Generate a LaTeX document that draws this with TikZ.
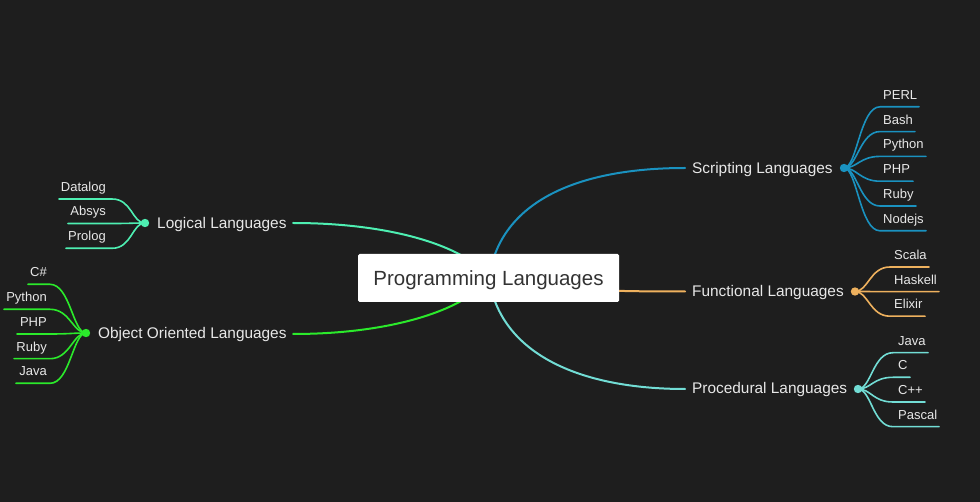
\documentclass[tikz,border=0pt]{standalone}
\usepackage{fontspec}
\setmainfont{Liberation Sans}
\definecolor{bgc}{HTML}{1E1E1E}
\definecolor{txt}{HTML}{E8E8E8}
\definecolor{scol}{HTML}{1A92C0}
\definecolor{fcol}{HTML}{EEB15E}
\definecolor{pcol}{HTML}{72DDD5}
\definecolor{lcol}{HTML}{4EEFB2}
\definecolor{ocol}{HTML}{2BEA2B}
\begin{document}
\begin{tikzpicture}[x=1pt,y=-1pt,line cap=round,
  leaf/.style={text=txt,font=\fontsize{13}{15}\selectfont,inner sep=0pt,anchor=base west},
  leafR/.style={leaf,anchor=base east},
  branch/.style={text=txt,font=\fontsize{15.4}{18}\selectfont,inner sep=0pt,anchor=base west},
  dotn/.style={circle,inner sep=0pt,minimum size=8.4pt,fill=#1},
  mainln/.style={line width=2pt,#1},
  subln/.style={line width=1.6pt,#1},
  rootbox/.style={fill=white,rounded corners=1.5pt,minimum width=261pt,minimum height=48pt,
    text=black!80,font=\fontsize{20.5}{24}\selectfont,text height=16pt,text depth=0pt,inner sep=0pt}]
\useasboundingbox (0,0) rectangle (980,502);
\fill[bgc] (0,0) rectangle (980,502);
\coordinate (root) at (489,278);
% branch ends
\coordinate (send) at (685,168);
\coordinate (fend) at (685,291.5);
\coordinate (pend) at (685,389);
\coordinate (lend) at (293,223);
\coordinate (oend) at (293,334);
% branch labels
\node[branch] (slab) at (692,173.5) {Scripting Languages};
\node[branch] (flab) at (692,296.8) {Functional Languages};
\node[branch] (plab) at (692,393.3) {Procedural Languages};
\node[branch] (llab) at (157,228.7) {Logical Languages};
\node[branch] (olab) at (98,338.7) {Object Oriented Languages};
% main curves
\draw[mainln=scol] (root) .. controls +(11,-78) and +(-105,0) .. (send);
\draw[mainln=fcol] (root) .. controls +(70,12) and +(-85,0) .. (fend);
\draw[mainln=pcol] (root) .. controls +(11,76) and +(-105,0) .. (pend);
\draw[mainln=lcol] (root) .. controls +(-19,-28) and +(107,0) .. (lend);
\draw[mainln=ocol] (root) .. controls +(-19,28) and +(107,0) .. (oend);
\node[rootbox] (rootnode) at (488.5,278) {Programming Languages};
% dots
\node[dotn=scol] (sdot) at (844,168) {};
\node[dotn=fcol] (fdot) at (855,291.5) {};
\node[dotn=pcol] (pdot) at (858,389) {};
\node[dotn=lcol] (ldot) at (145,223) {};
\node[dotn=ocol] (odot) at (86,333) {};
% scripting leaves
\foreach \t/\y/\e [count=\i] in {PERL/106.8/919,Bash/131.6/915,Python/156.4/926,PHP/181.2/913,Ruby/206/916,Nodejs/230.8/926}{
  \coordinate (se\i) at (\e,\y);
  \node[leaf] (sl\i) at (883,\y-7.5) {\t};
  \draw[subln=scol] (sdot.center) .. controls +(13,0) and +(-20,0) .. (880,\y) -- (se\i);
}
% functional leaves
\foreach \t/\y/\e [count=\i] in {Scala/267/929,Haskell/291.6/939,Elixir/316.2/925}{
  \coordinate (fe\i) at (\e,\y);
  \node[leaf] (fl\i) at (894,\y-7.5) {\t};
  \draw[subln=fcol] (fdot.center) .. controls +(13,0) and +(-20,0) .. (890,\y) -- (fe\i);
}
% procedural leaves
\foreach \t/\y/\e [count=\i] in {Java/352.7/928,C/377.3/910,C++/402/925,Pascal/426.7/939}{
  \coordinate (pe\i) at (\e,\y);
  \node[leaf] (pl\i) at (898,\y-7.5) {\t};
  \draw[subln=pcol] (pdot.center) .. controls +(13,0) and +(-20,0) .. (893,\y) -- (pe\i);
}
% logical leaves
\foreach \t/\y/\e [count=\i] in {Datalog/199/59,Absys/223.5/68,Prolog/248.3/66}{
  \coordinate (le\i) at (\e,\y);
  \node[leafR] (ll\i) at (106,\y-7.5) {\t};
  \draw[subln=lcol] (ldot.center) .. controls +(-13,0) and +(20,0) .. (112,\y) -- (le\i);
}
% object oriented leaves
\foreach \t/\y/\e [count=\i] in {C\#/284.3/28,Python/309.3/4,PHP/334/17,Ruby/358.7/14,Java/383.3/16}{
  \coordinate (oe\i) at (\e,\y);
  \node[leafR] (ol\i) at (47,\y-7.5) {\t};
  \draw[subln=ocol] (odot.center) .. controls +(-13,0) and +(20,0) .. (50,\y) -- (oe\i);
}
\end{tikzpicture}
\end{document}
